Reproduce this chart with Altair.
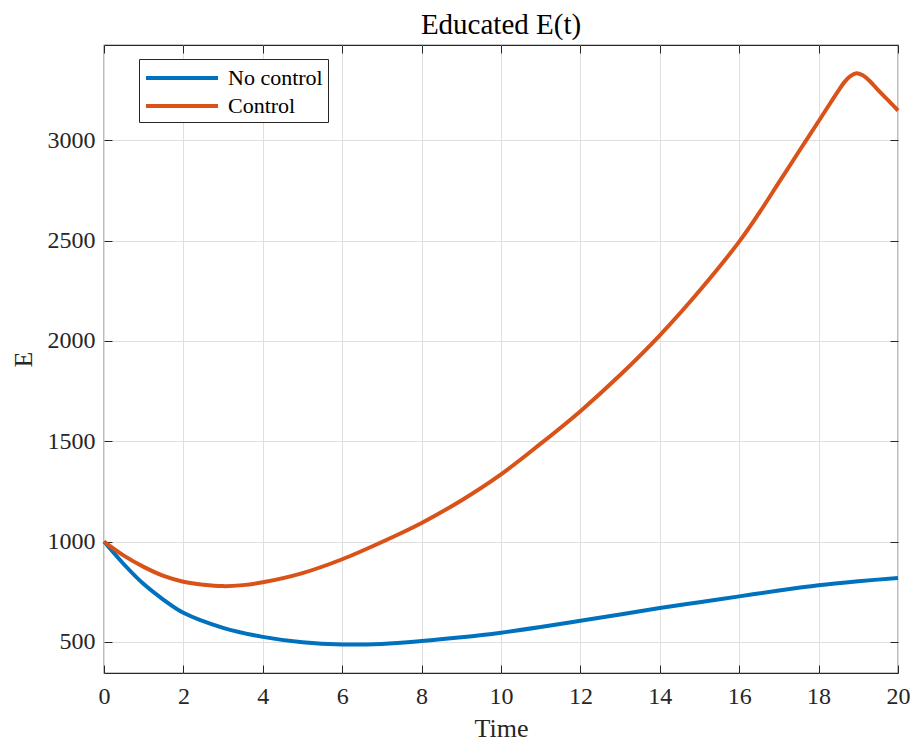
import altair as alt
import pandas as pd

# ---- data ----
t_nocontrol = [0, 0.5, 1, 1.5, 2, 3, 4, 5, 6, 7, 8, 9, 10, 11, 12, 13, 14, 15, 16, 17, 18, 19, 20]
e_nocontrol = [1000, 887, 788, 710, 645, 570, 525, 498, 487, 490, 504, 523, 546, 574, 605, 637, 669, 698, 727, 756, 782, 802, 819]

t_control = [0, 0.5, 1, 1.5, 2, 2.5, 3, 3.5, 4, 5, 6, 7, 8, 9, 10, 11, 12, 13, 14, 15, 16, 16.5,
             17, 17.5, 18, 18.3, 18.5, 18.65, 18.8, 18.95, 19.1, 19.3, 19.5, 19.75, 20]
e_control = [1000, 930, 874, 829, 800, 785, 778, 783, 797, 843, 912, 998, 1093, 1205, 1335, 1488, 1650,
             1830, 2028, 2250, 2495, 2637, 2790, 2943, 3095, 3187, 3248, 3290, 3320, 3334, 3325, 3293, 3250, 3200, 3148]

series = ["No control", "Control"]
colors = ["#0072BD", "#D95319"]
x_ticks = [0, 2, 4, 6, 8, 10, 12, 14, 16, 18, 20]
y_ticks = [500, 1000, 1500, 2000, 2500, 3000]
x_domain = [0, 20]
y_domain = [345, 3475]

df = pd.concat([
    pd.DataFrame({"t": t_nocontrol, "E": e_nocontrol, "series": series[0]}),
    pd.DataFrame({"t": t_control, "E": e_control, "series": series[1]}),
])

FONT = "Liberation Serif"
TXT = "#262626"

xscale = alt.Scale(domain=x_domain, nice=False, zero=False)
yscale = alt.Scale(domain=y_domain, nice=False, zero=False)

lines = alt.Chart(df).mark_line(strokeWidth=4, interpolate="catmull-rom").encode(
    x=alt.X("t:Q", scale=xscale,
            axis=alt.Axis(values=x_ticks, grid=True, ticks=False, domain=False, format="d",
                          labelFlush=False, labelOverlap=False,
                          labelPadding=11, labelFontSize=24, labelFont=FONT, labelColor=TXT,
                          title="Time", titleFontSize=26, titleFont=FONT, titleColor=TXT,
                          titleFontWeight="normal", titlePadding=7)),
    y=alt.Y("E:Q", scale=yscale,
            axis=alt.Axis(values=y_ticks, grid=True, ticks=False, domain=False, format="d",
                          labelFlush=False, labelOverlap=False,
                          labelPadding=9, labelFontSize=24, labelFont=FONT, labelColor=TXT,
                          title="E", titleFontSize=26, titleFont=FONT, titleColor=TXT,
                          titleFontWeight="normal", titlePadding=11)),
    color=alt.Color("series:N", sort=series,
                    scale=alt.Scale(domain=series, range=colors),
                    legend=alt.Legend(title=None, orient="none", legendX=35, legendY=14,
                                      symbolType="M-1,0H5", symbolSize=576, symbolStrokeWidth=4,
                                      symbolFillColor="transparent",
                                      labelFont=FONT, labelFontSize=22, labelColor="#000000",
                                      labelOffset=56, rowPadding=3, padding=5,
                                      strokeColor=TXT, fillColor="white")),
)

def tick_layer(xorient, yorient):
    return alt.Chart(df).mark_line(opacity=0).encode(
        x=alt.X("t:Q", scale=xscale,
                axis=alt.Axis(orient=xorient, values=x_ticks, labels=False, grid=False, domain=False,
                              ticks=True, tickSize=8, tickColor=TXT, tickWidth=1, offset=-8, title=None)),
        y=alt.Y("E:Q", scale=yscale,
                axis=alt.Axis(orient=yorient, values=y_ticks, labels=False, grid=False, domain=False,
                              ticks=True, tickSize=8, tickColor=TXT, tickWidth=1, offset=-8, title=None)),
    )

chart = alt.layer(
    lines, tick_layer("bottom", "left"), tick_layer("top", "right")
).resolve_axis(x="independent", y="independent").properties(
    width=794, height=628,
    title=alt.TitleParams("Educated E(t)", font=FONT, fontSize=29, fontWeight="normal",
                          color="#000000", offset=5),
    autosize=alt.AutoSizeParams(type="none"),
    padding={"left": 96, "top": 37, "right": 12, "bottom": 70},
).configure_view(stroke=TXT, strokeWidth=1.2).configure_axis(
    gridColor="#dfdfdf", gridWidth=1, labelFont=FONT, titleFont=FONT
)

chart.save("out.html", embed_options={"renderer": "svg", "actions": False})
